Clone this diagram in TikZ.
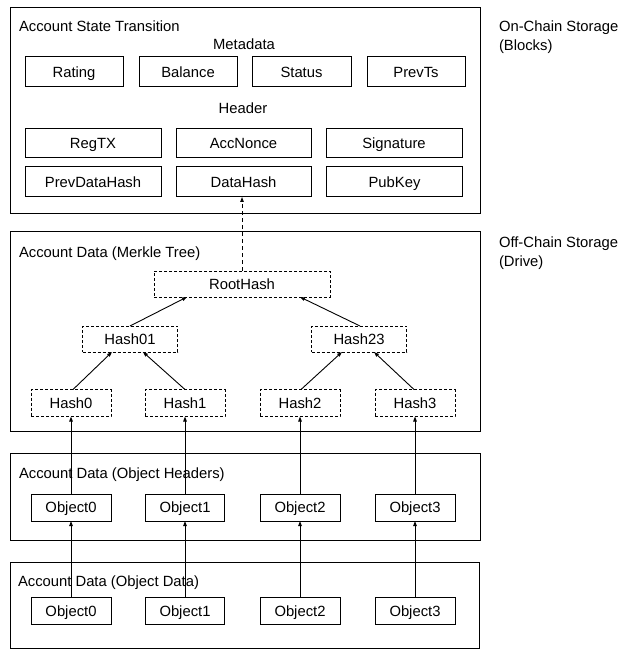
\documentclass[tikz,border=0pt]{standalone}
\usepackage{fontspec}
\setmainfont{Liberation Sans}
\usetikzlibrary{arrows.meta}
\begin{document}
\begin{tikzpicture}[x=1pt,y=-1pt,
  font=\fontsize{14.8}{17}\selectfont,
  every node/.style={inner sep=0pt, outer sep=0pt, text height=10.6pt, text depth=0pt},
  frame/.style={draw, line width=1pt},
  fbox/.style={draw, line width=1pt, minimum height=#1},
  fbox/.default=30pt,
  dbox/.style={draw, line width=0.9pt, dash pattern=on 3pt off 2pt, minimum height=#1},
  dbox/.default=26pt,
  arr/.style={line width=0.9pt, -{Triangle[length=5pt,width=3.5pt]}},
  darr/.style={arr, dash pattern=on 4pt off 3pt},
  lbl/.style={anchor=west}
]
\useasboundingbox (0,0) rectangle (622,660);

% container frames
\node[frame, minimum width=470pt, minimum height=205pt] (onchain) at (245,110.5) {};
\node[frame, minimum width=470pt, minimum height=200pt] (merkle) at (245,331.5) {};
\node[frame, minimum width=470pt, minimum height=87pt] (objhead) at (245,496.5) {};
\node[frame, minimum width=469pt, minimum height=86pt] (objdata) at (244.5,605) {};

% side labels
\node[lbl] (onlbl1) at (499,26) {On-Chain Storage};
\node[lbl] (onlbl2) at (499,45) {(Blocks)};
\node[lbl] (offlbl1) at (499,242) {Off-Chain Storage};
\node[lbl] (offlbl2) at (499,261) {(Drive)};

% block 1
\node[lbl] (t1) at (19,26) {Account State Transition};
\node (meta) at (244,44) {Metadata};
\node[fbox, minimum width=98pt] (rating) at (74,72) {Rating};
\node[fbox, minimum width=98pt] (balance) at (188,72) {Balance};
\node[fbox, minimum width=99pt] (status) at (301.5,72) {Status};
\node[fbox, minimum width=98pt] (prevts) at (416,72) {PrevTs};
\node (header) at (243,108) {Header};
\node[fbox=29pt, minimum width=136pt] (regtx) at (93,143) {RegTX};
\node[fbox=29pt, minimum width=135pt] (accnonce) at (243.5,143.5) {AccNonce};
\node[fbox=29pt, minimum width=136pt] (signature) at (394,143.5) {Signature};
\node[fbox, minimum width=136pt] (prevdatahash) at (93,182) {PrevDataHash};
\node[fbox, minimum width=135pt] (datahash) at (243.5,182) {DataHash};
\node[fbox, minimum width=136pt] (pubkey) at (394.5,182) {PubKey};

% block 2
\node[lbl] (t2) at (19,252) {Account Data (Merkle Tree)};
\node[dbox, minimum width=176pt] (root) at (242,284) {RootHash};
\node[dbox, minimum width=95pt] (h01) at (130,339) {Hash01};
\node[dbox, minimum width=95pt] (h23) at (359,339) {Hash23};
\node[dbox=27pt, minimum width=80pt] (h0) at (71,403) {Hash0};
\node[dbox=27pt, minimum width=80pt] (h1) at (185,403) {Hash1};
\node[dbox=27pt, minimum width=80pt] (h2) at (300,403) {Hash2};
\node[dbox=27pt, minimum width=80pt] (h3) at (415,403) {Hash3};

% block 3
\node[lbl] (t3) at (19,473) {Account Data (Object Headers)};
\node[fbox=27pt, minimum width=80pt] (oh0) at (71,507.5) {Object0};
\node[fbox=27pt, minimum width=79pt] (oh1) at (185,507.5) {Object1};
\node[fbox=27pt, minimum width=80pt] (oh2) at (300,507.5) {Object2};
\node[fbox=27pt, minimum width=80pt] (oh3) at (415,507.5) {Object3};

% block 4
\node[lbl] (t4) at (18,581) {Account Data (Object Data)};
\node[fbox=27pt, minimum width=80pt] (od0) at (71,611) {Object0};
\node[fbox=27pt, minimum width=79pt] (od1) at (185,611) {Object1};
\node[fbox=27pt, minimum width=80pt] (od2) at (300,611) {Object2};
\node[fbox=27pt, minimum width=80pt] (od3) at (415,611) {Object3};

% connectors
\draw[darr] (root.north) -- (root.north |- datahash.south);
\draw[arr] ([xshift=0pt]h01.north) -- ([xshift=-55pt]root.south);
\draw[arr] ([xshift=1pt]h23.north) -- ([xshift=58pt]root.south);
\draw[arr] ([xshift=2pt]h0.north) -- ([xshift=-18pt]h01.south);
\draw[arr] (h1.north) -- ([xshift=13pt]h01.south);
\draw[arr] ([xshift=1pt]h2.north) -- ([xshift=-17pt]h23.south);
\draw[arr] ([xshift=-1pt]h3.north) -- ([xshift=15pt]h23.south);
\draw[arr] (oh0.north) -- (h0.south);
\draw[arr] (oh1.north) -- (h1.south);
\draw[arr] (oh2.north) -- (h2.south);
\draw[arr] (oh3.north) -- (h3.south);
\draw[arr] (od0.north) -- (oh0.south);
\draw[arr] (od1.north) -- (oh1.south);
\draw[arr] (od2.north) -- (oh2.south);
\draw[arr] (od3.north) -- (oh3.south);
\end{tikzpicture}
\end{document}
